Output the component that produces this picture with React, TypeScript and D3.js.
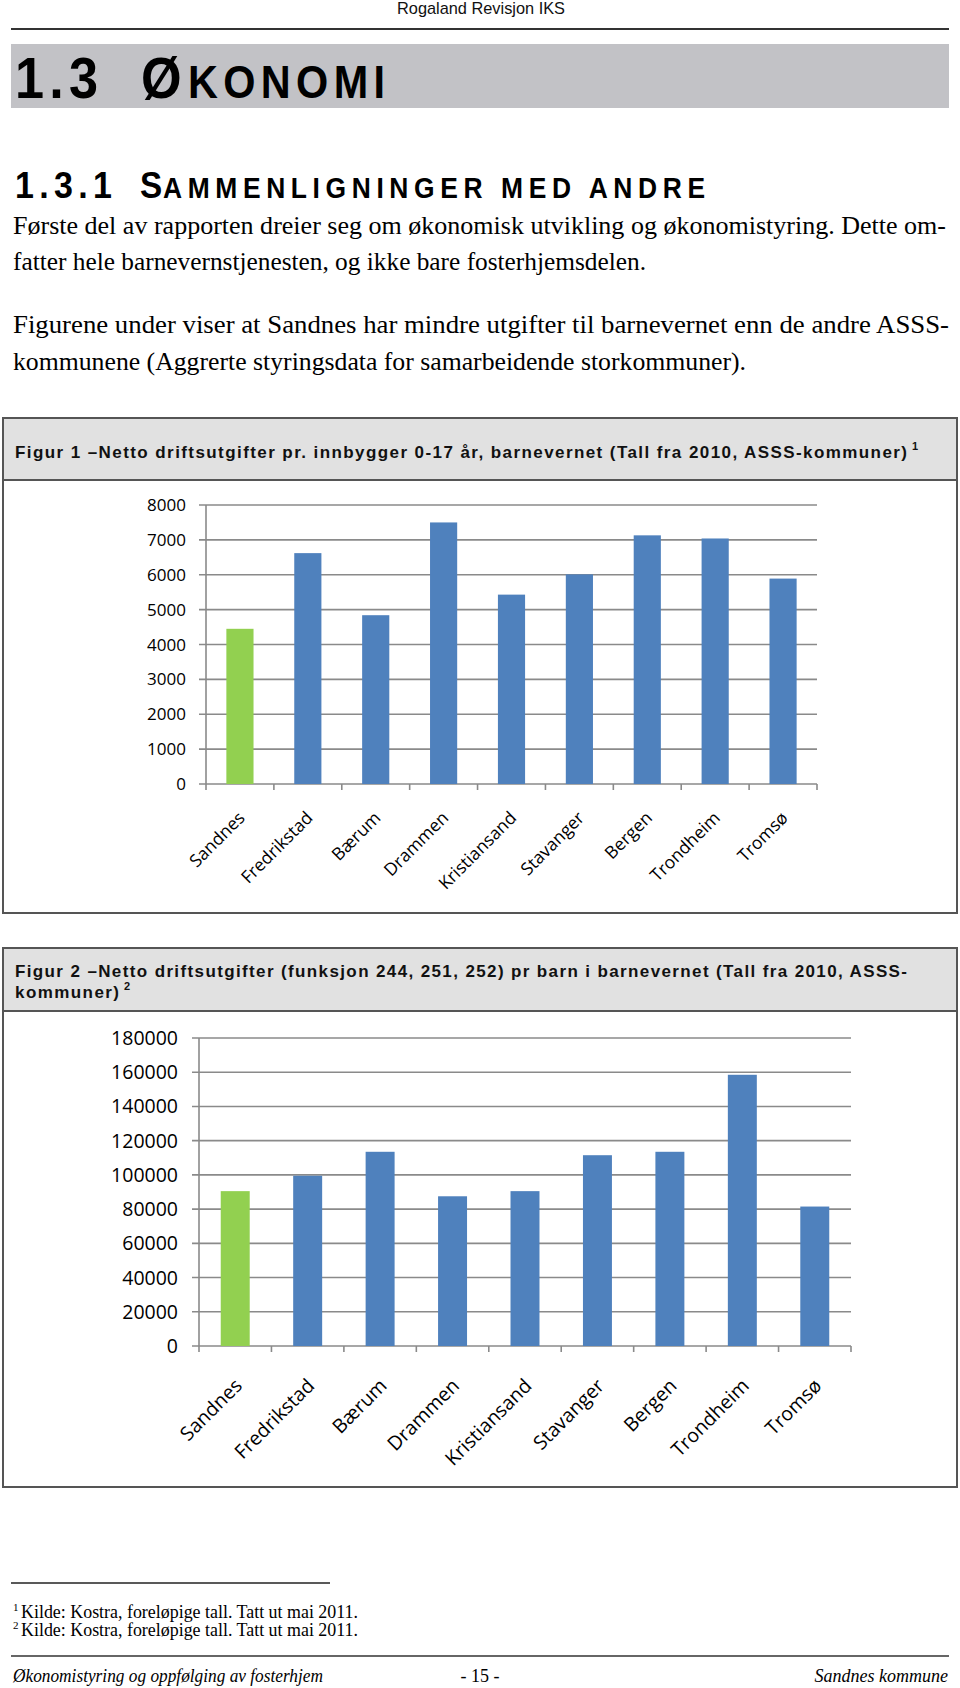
import React from "react";
import * as d3 from "d3";

const categories = ["Sandnes", "Fredrikstad", "Bærum", "Drammen", "Kristiansand", "Stavanger", "Bergen", "Trondheim", "Tromsø"];
const perYouthValues = [4450, 6620, 4840, 7500, 5430, 6010, 7130, 7040, 5890];
const perChildValues = [90500, 99500, 113500, 87500, 90500, 111500, 113500, 158500, 81500];
const ticksFig1 = [0, 1000, 2000, 3000, 4000, 5000, 6000, 7000, 8000];
const ticksFig2 = [0, 20000, 40000, 60000, 80000, 100000, 120000, 140000, 160000, 180000];
const highlighted = "Sandnes";

const bodyLines = [
  { text: "Første del av rapporten dreier seg om økonomisk utvikling og økonomistyring. Dette om-", y: 234, w: 933 },
  { text: "fatter hele barnevernstjenesten, og ikke bare fosterhjemsdelen.", y: 270, w: 633 },
  { text: "Figurene under viser at Sandnes har mindre utgifter til barnevernet enn de andre ASSS-", y: 333, w: 936 },
  { text: "kommunene (Aggrerte styringsdata for samarbeidende storkommuner).", y: 370, w: 733 },
];

const BLUE = "#4f81bd";
const GREEN = "#92d050";
const GRID = "#8a8a8a";
const SANS = "'Liberation Sans', Arial, sans-serif";
const SERIF = "'Liberation Serif', 'Times New Roman', serif";
const CAL = "'Open Sans', 'Noto Sans', sans-serif";

type ChartProps = {
  values: number[];
  ticks: number[];
  x0: number;
  x1: number;
  yBottom: number;
  yTop: number;
  labelRight: number;
  tickFont: number;
  catFont: number;
  catDx: number;
  catDy: number;
};

function BarChart(p: ChartProps) {
  const x = d3.scaleBand<string>().domain(categories).range([p.x0, p.x1]).paddingInner(0.6).paddingOuter(0.3);
  const maxT = p.ticks[p.ticks.length - 1];
  const y = d3.scaleLinear().domain([0, maxT]).range([p.yBottom, p.yTop]);
  const step = x.step();
  const boundaries = d3.range(categories.length + 1).map((i) => p.x0 + i * step);
  return (
    <g>
      {p.ticks.map((t) => (
        <g key={"t" + t}>
          <line x1={p.x0 - 7} x2={p.x1} y1={y(t)} y2={y(t)} stroke={GRID} strokeWidth={1.6} />
          <text x={p.labelRight} y={y(t)} dy="0.36em" textAnchor="end" fontFamily={CAL} fontSize={p.tickFont} fill="#000">
            {t}
          </text>
        </g>
      ))}
      <line x1={p.x0} x2={p.x0} y1={y(maxT)} y2={p.yBottom} stroke={GRID} strokeWidth={1.6} />
      {boundaries.map((bx, i) => (
        <line key={"b" + i} x1={bx} x2={bx} y1={p.yBottom} y2={p.yBottom + 6} stroke={GRID} strokeWidth={1.6} />
      ))}
      {categories.map((c, i) => (
        <rect
          key={c}
          x={x(c)}
          y={y(p.values[i])}
          width={x.bandwidth()}
          height={p.yBottom - y(p.values[i])}
          fill={c === highlighted ? GREEN : BLUE}
        />
      ))}
      {categories.map((c) => {
        const cx = (x(c) as number) + x.bandwidth() / 2;
        const ax = cx + p.catDx;
        const ay = p.yBottom + p.catDy;
        return (
          <text
            key={"l" + c}
            x={ax}
            y={ay}
            textAnchor="end"
            transform={`rotate(-45 ${ax} ${ay})`}
            fontFamily={CAL}
            fontSize={p.catFont}
            fill="#000"
          >
            {c}
          </text>
        );
      })}
    </g>
  );
}

// Bold heading text: glyphs condensed horizontally, spacing fills the target width
function Narrow(props: { x: number; y: number; size: number; width: number; sx: number; children: string }) {
  const { x, y, size, width, sx, children } = props;
  return (
    <g transform={`translate(${x} ${y}) scale(${sx} 1)`}>
      <text x={0} y={0} fontFamily={SANS} fontWeight="bold" fontSize={size} textLength={width / sx} lengthAdjust="spacing" fill="#000">
        {children}
      </text>
    </g>
  );
}

export default function App() {
  return (
    <svg width={960} height={1688} style={{ position: "absolute", left: 0, top: 0, background: "#fff" }}>
      <rect x={0} y={0} width={960} height={1688} fill="#fff" />
      {/* Page header */}
      <text x={481} y={14} textAnchor="middle" fontFamily={SANS} fontSize={17} textLength={168} lengthAdjust="spacingAndGlyphs" fill="#111">
        Rogaland Revisjon IKS
      </text>
      <line x1={11} x2={949} y1={29} y2={29} stroke="#333" strokeWidth={2} />

      {/* Section heading */}
      <rect x={11} y={44} width={938} height={64} fill="#c2c2c6" />
      <Narrow x={15} y={98} size={58} width={83} sx={0.9}>1.3</Narrow>
      <Narrow x={141} y={98} size={58} width={42} sx={0.9}>Ø</Narrow>
      <Narrow x={188} y={98} size={46} width={197} sx={0.9}>KONOMI</Narrow>

      <Narrow x={15} y={198} size={37} width={97} sx={0.92}>1.3.1</Narrow>
      <Narrow x={140} y={198} size={37} width={21} sx={0.9}>S</Narrow>
      <Narrow x={163} y={198} size={30} width={542} sx={0.88}>AMMENLIGNINGER MED ANDRE</Narrow>

      {bodyLines.map((l) => (
        <text key={l.y} x={13} y={l.y} fontFamily={SERIF} fontSize={25} textLength={l.w} lengthAdjust="spacingAndGlyphs" fill="#000">
          {l.text}
        </text>
      ))}

      {/* Figure 1 */}
      <rect x={3} y={418} width={954} height={495} fill="#fff" stroke="#555" strokeWidth={2} />
      <rect x={4} y={419} width={952} height={61} fill="#e1e1e1" />
      <line x1={3} x2={957} y1={480} y2={480} stroke="#555" strokeWidth={2} />
      <text x={15} y={458} fontFamily={SANS} fontWeight="bold" fontSize={17} textLength={892} lengthAdjust="spacing" fill="#111">
        Figur 1 –Netto driftsutgifter pr. innbygger 0-17 år, barnevernet (Tall fra 2010, ASSS-kommuner)
      </text>
      <text x={912} y={450} fontFamily={SANS} fontWeight="bold" fontSize={11} fill="#111">
        1
      </text>
      <BarChart
        values={perYouthValues}
        ticks={ticksFig1}
        x0={206}
        x1={817}
        yBottom={784}
        yTop={505}
        labelRight={186}
        tickFont={17}
        catFont={17.5}
        catDx={6}
        catDy={35}
      />

      {/* Figure 2 */}
      <rect x={3} y={948} width={954} height={539} fill="#fff" stroke="#555" strokeWidth={2} />
      <rect x={4} y={949} width={952} height={62} fill="#e1e1e1" />
      <line x1={3} x2={957} y1={1011} y2={1011} stroke="#555" strokeWidth={2} />
      <text x={15} y={977} fontFamily={SANS} fontWeight="bold" fontSize={17} textLength={892} lengthAdjust="spacing" fill="#111">
        Figur 2 –Netto driftsutgifter (funksjon 244, 251, 252) pr barn i barnevernet (Tall fra 2010, ASSS-
      </text>
      <text x={15} y={998} fontFamily={SANS} fontWeight="bold" fontSize={17} textLength={104} lengthAdjust="spacing" fill="#111">
        kommuner)
      </text>
      <text x={124} y={990} fontFamily={SANS} fontWeight="bold" fontSize={11} fill="#111">
        2
      </text>
      <BarChart
        values={perChildValues}
        ticks={ticksFig2}
        x0={199}
        x1={851}
        yBottom={1346}
        yTop={1038}
        labelRight={178}
        tickFont={19.5}
        catFont={19.5}
        catDx={8}
        catDy={41}
      />

      {/* Footnotes */}
      <line x1={11} x2={330} y1={1583} y2={1583} stroke="#222" strokeWidth={1.5} />
      <text x={13} y={1611} fontFamily={SERIF} fontSize={11} fill="#000">1</text>
      <text x={21} y={1618} fontFamily={SERIF} fontSize={18} textLength={337} lengthAdjust="spacingAndGlyphs" fill="#000">
        Kilde: Kostra, foreløpige tall. Tatt ut mai 2011.
      </text>
      <text x={13} y={1629} fontFamily={SERIF} fontSize={11} fill="#000">2</text>
      <text x={21} y={1636} fontFamily={SERIF} fontSize={18} textLength={337} lengthAdjust="spacingAndGlyphs" fill="#000">
        Kilde: Kostra, foreløpige tall. Tatt ut mai 2011.
      </text>

      {/* Page footer */}
      <line x1={11} x2={949} y1={1656} y2={1656} stroke="#333" strokeWidth={1.5} />
      <text x={13} y={1682} fontFamily={SERIF} fontStyle="italic" fontSize={18} textLength={310} lengthAdjust="spacingAndGlyphs" fill="#000">
        Økonomistyring og oppfølging av fosterhjem
      </text>
      <text x={480} y={1682} textAnchor="middle" fontFamily={SERIF} fontSize={18} fill="#000">
        - 15 -
      </text>
      <text x={948} y={1682} textAnchor="end" fontFamily={SERIF} fontStyle="italic" fontSize={18} fill="#000">
        Sandnes kommune
      </text>
    </svg>
  );
}
